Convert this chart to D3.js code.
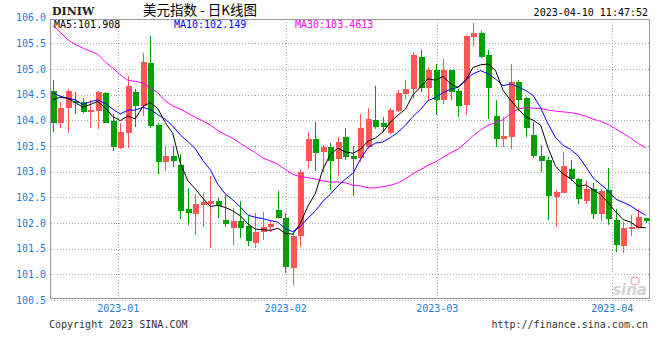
<!DOCTYPE html>
<html><head><meta charset="utf-8">
<script src="https://cdn.jsdelivr.net/npm/d3@7/dist/d3.min.js"></script>
<style>body{margin:0;background:#fff}svg{display:block}</style>
</head><body><svg id="c" width="660" height="360"></svg>
<script>
const dates = ["2022-12-19","2022-12-20","2022-12-21","2022-12-22","2022-12-23","2022-12-27","2022-12-28","2022-12-29","2022-12-30",
"2023-01-02","2023-01-03","2023-01-04","2023-01-05","2023-01-06","2023-01-09","2023-01-10","2023-01-11","2023-01-12","2023-01-13","2023-01-16","2023-01-17","2023-01-18","2023-01-19","2023-01-20","2023-01-23","2023-01-24","2023-01-25","2023-01-26","2023-01-27","2023-01-30","2023-01-31",
"2023-02-01","2023-02-02","2023-02-03","2023-02-06","2023-02-07","2023-02-08","2023-02-09","2023-02-10","2023-02-13","2023-02-14","2023-02-15","2023-02-16","2023-02-17","2023-02-20","2023-02-21","2023-02-22","2023-02-23","2023-02-24","2023-02-27","2023-02-28",
"2023-03-01","2023-03-02","2023-03-03","2023-03-06","2023-03-07","2023-03-08","2023-03-09","2023-03-10","2023-03-13","2023-03-14","2023-03-15","2023-03-16","2023-03-17","2023-03-20","2023-03-21","2023-03-22","2023-03-23","2023-03-24","2023-03-27","2023-03-28","2023-03-29","2023-03-30","2023-03-31",
"2023-04-03","2023-04-04","2023-04-05","2023-04-06","2023-04-07","2023-04-10"];
const open  = [104.57,103.95,104.25,104.38,104.36,104.17,104.19,104.53,103.99,103.46,103.76,104.55,104.28,105.12,103.90,103.19,103.31,103.13,102.27,102.17,102.36,102.38,102.42,102.06,101.91,102.03,101.94,101.62,101.83,101.93,102.25,102.10,101.13,101.75,103.21,103.64,103.38,103.48,103.25,103.67,103.31,103.26,103.49,104.01,103.94,103.76,104.19,104.51,104.61,105.23,104.64,104.99,104.40,104.99,104.58,104.30,105.62,105.70,105.27,104.08,103.63,103.68,104.75,104.43,103.72,103.31,103.23,102.51,102.59,103.05,102.85,102.43,102.66,102.18,102.64,102.06,101.55,101.89,101.91,102.10];
const high  = [104.79,104.36,104.62,104.56,104.44,104.40,104.57,104.55,104.12,103.94,104.86,104.62,105.31,105.65,103.94,103.50,103.50,103.34,102.68,102.57,102.58,102.92,102.48,102.55,102.29,102.43,102.14,102.20,102.22,102.06,102.63,102.20,101.78,103.03,103.78,103.97,103.52,103.55,103.68,103.85,103.50,104.12,104.24,104.67,104.07,104.25,104.59,104.79,105.33,105.37,105.03,105.10,105.19,104.99,104.62,105.66,105.90,105.74,105.37,104.40,104.06,105.10,104.79,104.46,103.97,103.52,103.29,102.64,103.39,103.23,102.87,102.81,102.77,102.66,103.07,102.27,102.01,102.16,102.27,102.10];
const low   = [103.77,103.86,103.75,104.12,104.15,103.86,103.83,103.94,103.40,103.44,103.47,103.88,104.09,103.86,102.95,103.02,103.10,102.08,101.96,101.77,101.93,101.51,102.10,101.93,101.57,101.71,101.55,101.51,101.66,101.83,102.09,101.03,100.79,101.54,103.05,103.02,103.00,102.64,102.92,103.23,102.53,103.18,103.44,103.83,103.78,103.73,104.17,104.42,104.42,104.56,104.40,104.10,104.31,104.40,104.07,104.10,105.44,105.22,104.03,103.48,103.49,103.44,104.19,103.68,103.27,103.00,102.05,101.92,102.58,102.82,102.38,102.37,102.08,102.04,101.96,101.44,101.41,101.75,101.88,102.00];
const close = [103.95,104.25,104.58,104.33,104.17,104.21,104.55,103.95,103.49,103.77,104.67,104.27,105.14,103.89,103.18,103.31,103.21,102.24,102.19,102.37,102.40,102.42,102.33,101.99,102.04,101.91,101.64,101.83,101.93,101.98,102.10,101.15,101.75,103.00,103.64,103.36,103.49,103.21,103.58,103.28,103.24,103.86,104.02,103.88,103.88,104.20,104.53,104.61,105.27,104.64,104.99,104.40,104.98,104.56,104.27,105.64,105.70,105.24,104.64,103.63,103.70,104.75,104.40,103.86,103.31,103.21,102.53,102.61,103.11,102.86,102.46,102.66,102.17,102.62,102.07,101.57,101.90,101.92,102.12,102.03];
// moving-average values before enough in-window closes exist
const ma5Lead  = [104.40,104.45,104.43,104.35];
const ma10Lead = [104.54,104.47,104.43,104.40,104.31,104.36,104.40,104.33,104.22];
const ma30Lead = [105.85,105.72,105.57,105.48,105.41,105.35,105.29,105.14,105.02,104.89,104.78,104.76,104.73,104.63,104.54,104.38,104.28,104.22,104.14,104.06,103.99,103.91,103.80,103.72,103.65,103.55,103.46,103.37,103.27];
const yTicks = [106.0,105.5,105.0,104.5,104.0,103.5,103.0,102.5,102.0,101.5,101.0,100.5];
const monthTicks = ["2023-01","2023-02","2023-03","2023-04"];
const monthTickPos = [8.74,31.04,51.24,74.55];
const title = "美元指数 - 日K线图";
const symbol = "DINIW";
const stamp = "2023-04-10 11:47:52";
const maLast = {ma5:"101.908", ma10:"102.149", ma30:"103.4613"};

const svg = d3.select("#c");
const W=660,H=360, L=50.5, R=649.5, T=19, B=298.5;
const x = d3.scaleLinear().domain([0,dates.length-1]).range([52.7,645.7]);
const y = d3.scaleLinear().domain([100.5,106.0]).range([300,17.7]);
const mono = "'DejaVu Sans Mono', 'Liberation Mono', monospace";
const blue = "#1a7fd4";

svg.append("rect").attr("width",W).attr("height",H).attr("fill","#fff");

function ma(n, lead){
  return close.map((c,i)=>{
    if(i < n-1) return lead[i];
    return d3.mean(close.slice(i-n+1,i+1));
  });
}
const ma5 = ma(5,ma5Lead), ma10 = ma(10,ma10Lead), ma30 = ma(30,ma30Lead);

// grid
const grid = svg.append("g").attr("stroke","#aaa").attr("stroke-dasharray","1,2").attr("shape-rendering","crispEdges");
yTicks.filter(v=>v<106).forEach(v=>{
  grid.append("line").attr("x1",L).attr("x2",R).attr("y1",Math.round(y(v))+0.5).attr("y2",Math.round(y(v))+0.5);
});
monthTickPos.forEach(p=>{
  const xx = Math.round(x(p))+0.5;
  grid.append("line").attr("x1",xx).attr("x2",xx).attr("y1",T).attr("y2",B);
});
// frame
svg.append("path").attr("d",`M${L},${B}V${T}H${R}V${B}H${L}`).attr("fill","none").attr("stroke","#999").attr("stroke-width",1).attr("shape-rendering","crispEdges");

// y labels
svg.append("g").selectAll("text").data(yTicks).join("text")
  .attr("x",46).attr("y",d=>y(d)+3.5).attr("text-anchor","end")
  .attr("font-family",mono).attr("font-size",10).attr("fill",blue).text(d=>d.toFixed(1));
// month labels
svg.append("g").selectAll("text").data(monthTicks).join("text")
  .attr("x",(d,i)=>x(monthTickPos[i])).attr("y",312).attr("text-anchor","middle")
  .attr("font-family",mono).attr("font-size",10).attr("fill",blue).text(d=>d);

// watermark
svg.append("text").attr("x",647).attr("y",295).attr("text-anchor","end")
  .attr("font-family","'DejaVu Sans', sans-serif").attr("font-size",15).attr("font-weight","bold")
  .attr("font-style","italic").attr("fill","#d4d4d4").text("sina");
svg.append("circle").attr("cx",635).attr("cy",281).attr("r",4).attr("fill","none").attr("stroke","#f0b0b0").attr("stroke-width",1.5);

// clip
svg.append("clipPath").attr("id","clip").append("rect").attr("x",L).attr("y",T).attr("width",R-L).attr("height",B-T);
const plot = svg.append("g").attr("clip-path","url(#clip)");

// candles
const up="#ff5555", dn="#00a000";
const cg = plot.append("g").attr("shape-rendering","crispEdges");
close.forEach((c,i)=>{
  const o=open[i], col = c>=o ? up : dn;
  const cx = Math.round(x(i));
  cg.append("line").attr("x1",cx+0.5).attr("x2",cx+0.5).attr("y1",y(high[i])).attr("y2",y(low[i])).attr("stroke",col);
  const top = y(Math.max(o,c)), bot = y(Math.min(o,c));
  cg.append("rect").attr("x",cx-2.5).attr("y",top).attr("width",6).attr("height",Math.max(1,bot-top)).attr("fill",col);
});

// MA lines
const line = d3.line().x((d,i)=>x(i)).y(d=>y(d));
plot.append("path").attr("d",line(ma30)).attr("fill","none").attr("stroke","#ff00ff").attr("stroke-width",1);
plot.append("path").attr("d",line(ma10)).attr("fill","none").attr("stroke","#0000ff").attr("stroke-width",1);
plot.append("path").attr("d",line(ma5)).attr("fill","none").attr("stroke","#000").attr("stroke-width",1);

// header
svg.append("text").attr("x",52).attr("y",15).attr("font-family","'DejaVu Serif', 'Liberation Serif', serif").attr("font-weight","bold").attr("font-size",11).attr("fill","#222").text(symbol);
svg.append("text").attr("x",200).attr("y",15).attr("text-anchor","middle").attr("font-family","'Noto Sans CJK SC', sans-serif").attr("font-size",13.5).attr("fill","#000").text(title);
svg.append("text").attr("x",648).attr("y",15.5).attr("text-anchor","end").attr("font-family",mono).attr("font-size",10).attr("fill","#000").text(stamp);
svg.append("text").attr("x",54).attr("y",28).attr("font-family",mono).attr("font-size",10).attr("fill","#000").text("MA5:"+maLast.ma5);
svg.append("text").attr("x",174).attr("y",28).attr("font-family",mono).attr("font-size",10).attr("fill","#0000ff").text("MA10:"+maLast.ma10);
svg.append("text").attr("x",295).attr("y",28).attr("font-family",mono).attr("font-size",10).attr("fill","#ff00ff").text("MA30:"+maLast.ma30);
// footer
svg.append("text").attr("x",49).attr("y",328).attr("font-family",mono).attr("font-size",10).attr("fill","#333").text("Copyright 2023 SINA.COM");
svg.append("text").attr("x",648).attr("y",328).attr("text-anchor","end").attr("font-family",mono).attr("font-size",10).attr("fill","#333").text("http://finance.sina.com.cn");
</script></body></html>
